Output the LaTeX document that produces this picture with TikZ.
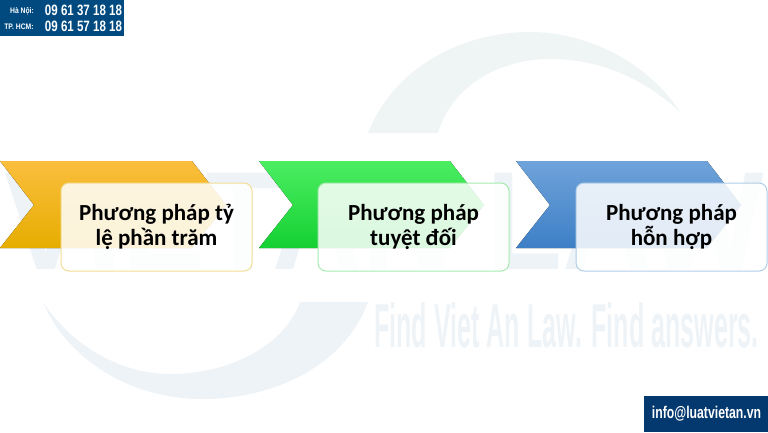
\documentclass[tikz,border=0pt]{standalone}
\usepackage{fontspec}
\setmainfont{Carlito}
\newfontfamily\markfont{Liberation Sans}
\usetikzlibrary{positioning}

\definecolor{WaterBlue}{HTML}{EEF3F7}
\definecolor{WaterGreen}{HTML}{EFF5F4}
\definecolor{BarBlue}{HTML}{004A80}
\definecolor{MailBlue}{HTML}{04396F}
\definecolor{OrangeTop}{HTML}{FBBE3E}
\definecolor{OrangeMid}{HTML}{FFC000}
\definecolor{OrangeLow}{HTML}{E6AD00}
\definecolor{OrangeEdge}{HTML}{F3DC94}
\definecolor{GreenTop}{HTML}{4CEE62}
\definecolor{GreenMid}{HTML}{22E63F}
\definecolor{GreenLow}{HTML}{14D032}
\definecolor{GreenEdge}{HTML}{A5EBB0}
\definecolor{BlueTop}{HTML}{6FA3DA}
\definecolor{BlueLow}{HTML}{3D7FC6}
\definecolor{BlueEdge}{HTML}{B0CDE8}

\begin{document}
\begin{tikzpicture}[x=1pt, y=-1pt]
			\tikzstyle{Chevron}	= [draw=none]
			\tikzstyle{Orange}	= [top color=OrangeTop, middle color=OrangeMid, bottom color=OrangeLow]
			\tikzstyle{Green}	= [top color=GreenTop, middle color=GreenMid, bottom color=GreenLow]
			\tikzstyle{Blue}	= [top color=BlueTop, bottom color=BlueLow]
			\tikzstyle{Card}	= [rectangle, rounded corners=8pt, line width=1pt, fill=white, fill opacity=0.85, text opacity=1, minimum width=191pt, minimum height=88pt, inner sep=0pt, align=center, font=\fontsize{23}{25.5}\selectfont\bfseries]
			\tikzstyle{Water}	= [inner sep=0pt, text=WaterBlue]
			\tikzstyle{Banner}	= [inner sep=0pt, text=white, font=\markfont\bfseries]

			\useasboundingbox (0, 0) rectangle (768, 432);
			\clip (0, 0) rectangle (768, 432);

			% watermark
			\fill [WaterGreen] (368, 133) .. controls (395, 65) and (465, 32) .. (530, 32) .. controls (590, 32) and (650, 65) .. (680, 112) .. controls (640, 75) and (595, 59) .. (550, 59) .. controls (495, 59) and (450, 90) .. (438, 133) -- cycle;
			\fill [WaterBlue] (368, 302) .. controls (345, 365) and (275, 399) .. (203, 399) .. controls (125, 399) and (65, 355) .. (43, 302) .. controls (75, 350) and (125, 374) .. (170, 374) .. controls (230, 374) and (285, 345) .. (300, 302) -- cycle;
			\node (brand) at (384, 221) [Water, font=\fontsize{140}{140}\selectfont\markfont\bfseries, xscale=0.89] {VIETAN LAW};
			\node (slogan) at (566.5, 325) [Water, font=\fontsize{62}{62}\selectfont\markfont\bfseries, xscale=0.405] {Find Viet An Law. Find answers.};

			% chevrons
			\fill [Chevron, Orange] (0, 161) -- (192, 161) -- (226, 205) -- (192, 248) -- (0, 248) -- (34, 205) -- cycle;
			\fill [Chevron, Green] (259, 161) -- (450, 161) -- (484, 205) -- (450, 248) -- (259, 248) -- (293, 205) -- cycle;
			\fill [Chevron, Blue] (516, 161) -- (707, 161) -- (741, 205) -- (707, 248) -- (516, 248) -- (550, 205) -- cycle;

			% cards
			\node (percent) at (156.5, 227) [Card, draw=OrangeEdge] {Phương pháp tỷ\\lệ phần trăm};
			\node (absolute) at (413.5, 227) [Card, draw=GreenEdge] {Phương pháp\\tuyệt đối};
			\node (mixed) at (671.5, 227) [Card, draw=BlueEdge] {Phương pháp\\hỗn hợp};

			% hotline and mail
			\fill [BarBlue] (0, 0) rectangle (124, 36);
			\fill [MailBlue] (644, 396) rectangle (768, 432);
			\node (hanoi) at (22, 11) [Banner, font=\fontsize{8}{8}\selectfont\markfont\bfseries, xscale=0.85] {Hà Nội:};
			\node (hcm) at (19, 26.5) [Banner, font=\fontsize{8}{8}\selectfont\markfont\bfseries, xscale=0.85] {TP. HCM:};
			\node (phoneN) at (83.5, 10.5) [Banner, font=\fontsize{15}{15}\selectfont\markfont\bfseries, xscale=0.77] {09 61 37 18 18};
			\node (phoneS) at (83.5, 26.5) [Banner, font=\fontsize{15}{15}\selectfont\markfont\bfseries, xscale=0.77] {09 61 57 18 18};
			\node (mail) at (706.5, 414) [Banner, font=\fontsize{17}{17}\selectfont\markfont\bfseries, xscale=0.72] {info@luatvietan.vn};
		\end{tikzpicture}
\end{document}
